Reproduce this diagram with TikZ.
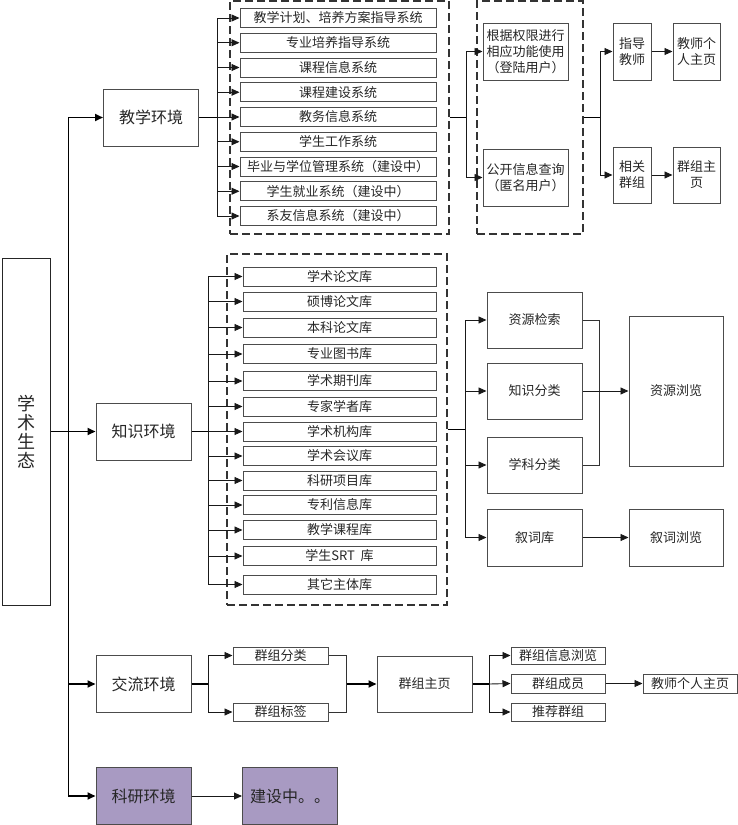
\documentclass[tikz,border=0pt]{standalone}
\usepackage{xcolor}
\usepackage{fontspec}
\usepackage{tikz}
\usetikzlibrary{shapes, arrows.meta, positioning}
\newfontfamily\cjk{Noto Sans CJK SC}
\definecolor{lilac}{RGB}{168,154,194}

\begin{document}
\begin{tikzpicture}
  [
    x=1pt, y=-1pt,
    Root/.style={rectangle, draw=black!85, line width=1pt, minimum width=48pt, minimum height=347pt, inner sep=0pt, align=center, text=black!85, font=\cjk\fontsize{18}{19}\selectfont},
    Main/.style={rectangle, draw=black!70, line width=1pt, minimum width=95pt, minimum height=57pt, inner sep=0pt, text=black!85, font=\cjk\fontsize{16}{18}\selectfont},
    Sub/.style={rectangle, draw=black!70, line width=1pt, minimum height=19pt, inner sep=0pt, text=black!85, font=\cjk\fontsize{13}{15}\selectfont},
    Item/.style={rectangle, draw=black!70, line width=1pt, minimum height=57pt, inner sep=0pt, align=center, text=black!85, font=\cjk\fontsize{13}{16}\selectfont},
    Group/.style={rectangle, draw=black!80, line width=1.2pt, dash pattern=on 8pt off 4pt, inner sep=0pt},
    Arrow/.style={draw=black!90, line width=0.9pt, -{Triangle[length=8pt, width=7pt]}},
    Plain/.style={draw=black!80, line width=0.9pt},
    Bold/.style={draw=black, line width=1.8pt}
  ]
  \useasboundingbox (0,0) rectangle (738,825);

  % Nodes
  \node[Root] (root) at (26, 431.5) {学\\术\\生\\态};

  \node[Main] (teach) at (151, 117.5) {教学环境};
  \node[Main] (know) at (143.5, 431.5) {知识环境};
  \node[Main] (comm) at (143.5, 684) {交流环境};
  \node[Main, fill=lilac] (research) at (143.5, 796) {科研环境};
  \node[Main, fill=lilac, text width=80pt, align=left, inner xsep=7pt] (building) at (290, 796) {建设中。。};

  % teaching systems
  \node[Group, minimum width=219pt, minimum height=233pt] (tgrp) at (339.5, 117.5) {};
  \node[Sub, minimum width=196pt] (t1) at (338, 18) {教学计划、培养方案指导系统};
  \node[Sub, minimum width=196pt] (t2) at (338, 42.75) {专业培养指导系统};
  \node[Sub, minimum width=196pt] (t3) at (338, 67.5) {课程信息系统};
  \node[Sub, minimum width=196pt] (t4) at (338, 92.25) {课程建设系统};
  \node[Sub, minimum width=196pt] (t5) at (338, 117) {教务信息系统};
  \node[Sub, minimum width=196pt] (t6) at (338, 141.75) {学生工作系统};
  \node[Sub, minimum width=196pt] (t7) at (338, 166.5) {毕业与学位管理系统（建设中）};
  \node[Sub, minimum width=196pt] (t8) at (338, 191.25) {学生就业系统（建设中）};
  \node[Sub, minimum width=196pt] (t9) at (338, 216) {系友信息系统（建设中）};

  \node[Group, minimum width=106pt, minimum height=233pt] (ugrp) at (530, 117.5) {};
  \node[Item, minimum width=85pt] (login) at (525.5, 51.5) {根据权限进行\\相应功能使用\\（登陆用户）};
  \node[Item, minimum width=85pt] (anon) at (525.5, 177.5) {公开信息查询\\（匿名用户）};

  \node[Item, minimum width=38pt] (guide) at (632, 51.5) {指导\\教师};
  \node[Item, minimum width=38pt, minimum height=56pt] (relgrp) at (632, 175) {相关\\群组};
  \node[Item, minimum width=47pt] (tpage) at (696.5, 51.5) {教师个\\人主页};
  \node[Item, minimum width=47pt, minimum height=56pt] (gpage) at (696.5, 175) {群组主\\页};

  % knowledge bases
  \node[Group, minimum width=220pt, minimum height=351pt] (kgrp) at (337, 429.5) {};
  \node[Sub, minimum width=193pt] (k1) at (339.5, 276.5) {学术论文库};
  \node[Sub, minimum width=193pt] (k2) at (339.5, 301.5) {硕博论文库};
  \node[Sub, minimum width=193pt] (k3) at (339.5, 327.5) {本科论文库};
  \node[Sub, minimum width=193pt] (k4) at (339.5, 354) {专业图书库};
  \node[Sub, minimum width=193pt] (k5) at (339.5, 381) {学术期刊库};
  \node[Sub, minimum width=193pt] (k6) at (339.5, 406.5) {专家学者库};
  \node[Sub, minimum width=193pt] (k7) at (339.5, 431.5) {学术机构库};
  \node[Sub, minimum width=193pt] (k8) at (339.5, 456) {学术会议库};
  \node[Sub, minimum width=193pt] (k9) at (339.5, 480.5) {科研项目库};
  \node[Sub, minimum width=193pt] (k10) at (339.5, 505) {专利信息库};
  \node[Sub, minimum width=193pt] (k11) at (339.5, 530) {教学课程库};
  \node[Sub, minimum width=193pt] (k12) at (339.5, 556) {学生SRT\ \ 库};
  \node[Sub, minimum width=193pt] (k13) at (339.5, 584.5) {其它主体库};

  \node[Item, minimum width=95pt, minimum height=56pt] (search) at (534.5, 320) {资源检索};
  \node[Item, minimum width=95pt, minimum height=56pt] (kcls) at (534.5, 391) {知识分类};
  \node[Item, minimum width=95pt, minimum height=56pt] (scls) at (534.5, 465) {学科分类};
  \node[Item, minimum width=95pt] (thes) at (534.5, 537.5) {叙词库};
  \node[Item, minimum width=94pt, minimum height=150pt] (browse) at (676, 391) {资源浏览};
  \node[Item, minimum width=94pt] (tbrowse) at (676, 537.5) {叙词浏览};

  % exchange
  \node[Sub, minimum width=95pt, minimum height=17pt] (gcls) at (280.5, 655.5) {群组分类};
  \node[Sub, minimum width=95pt, minimum height=18pt] (gtag) at (280.5, 712) {群组标签};
  \node[Item, minimum width=95pt, minimum height=56pt] (ghome) at (424.5, 684) {群组主页};
  \node[Sub, minimum width=94pt, minimum height=17pt] (ginfo) at (558, 655.5) {群组信息浏览};
  \node[Sub, minimum width=94pt] (gmem) at (558, 683.5) {群组成员};
  \node[Sub, minimum width=94pt, minimum height=18pt] (grec) at (558, 712) {推荐群组};
  \node[Sub, minimum width=94pt] (tpage2) at (690, 683.5) {教师个人主页};

  % Lines
  \path [Bold] (root.east) -- ++(18,0) coordinate (trunk);
  \path [Arrow, Bold] (trunk) |- (teach.west);
  \path [Arrow, Bold] (trunk) |- (know.west);
  \path [Arrow, Bold] (trunk) |- (comm.west);
  \path [Arrow, Bold] (trunk) |- (research.west);
  \path [Arrow] (research) -- (building);

  \path [Bold] (teach.east) -- ++(18,0) coordinate (tbus);
  \foreach \i in {1,...,9}
    \path [Arrow] (tbus) |- (t\i.west);
  \path [Bold] (tgrp.east) -- ++(17,0) coordinate (ubus);
  \path [Arrow] (ubus) |- (login.west);
  \path [Arrow] (ubus) |- (anon.west);
  \path [Bold] (ugrp.east) -- ++(17,0) coordinate (pbus);
  \path [Arrow] (pbus) |- (guide.west);
  \path [Arrow] (pbus) |- (relgrp.west);
  \path [Arrow] (guide) -- (tpage);
  \path [Arrow] (relgrp) -- (gpage);

  \path [Bold] (know.east) -- ++(17,0) coordinate (kbus);
  \foreach \i in {1,...,13}
    \path [Arrow] (kbus) |- (k\i.west);
  \path [Bold] (kgrp.east) -- ++(18,0) coordinate (sbus);
  \path [Arrow] (sbus) |- (search.west);
  \path [Arrow] (sbus) |- (kcls.west);
  \path [Arrow] (sbus) |- (scls.west);
  \path [Arrow] (sbus) |- (thes.west);
  \path [Plain] (search.east) -- ++(17,0) |- (scls.east);
  \path [Arrow] (kcls) -- (browse);
  \path [Arrow] (thes) -- (tbrowse);

  \path [Bold] (comm.east) -- ++(17,0) coordinate (cbus);
  \path [Arrow] (cbus) |- (gcls.west);
  \path [Arrow] (cbus) |- (gtag.west);
  \path [Plain] (gcls.east) -- ++(18,0) coordinate (gjoin) |- (gtag.east);
  \path [Arrow, Bold] (gjoin |- ghome.west) -- (ghome.west);
  \path [Bold] (ghome.east) -- ++(17,0) coordinate (hbus);
  \path [Arrow] (hbus) |- (ginfo.west);
  \path [Arrow] (hbus) -- (gmem.west);
  \path [Arrow] (hbus) |- (grec.west);
  \path [Arrow] (gmem) -- (tpage2);

\end{tikzpicture}
\end{document}
